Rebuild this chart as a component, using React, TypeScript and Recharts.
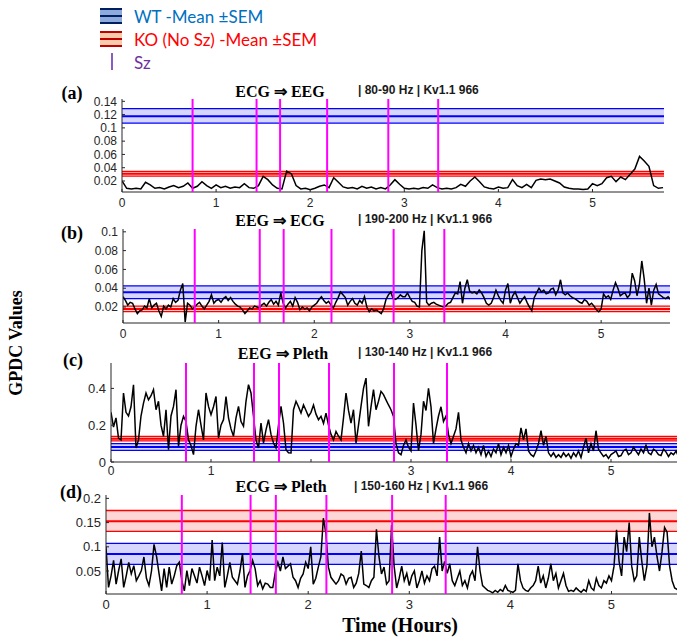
import React from 'react'
import { LineChart, Line, XAxis, YAxis, ReferenceArea, ReferenceLine } from 'recharts'

// time grids (hours)
const hours = Array.from({ length: 116 }, (_, i) => +(i * 0.05).toFixed(2))
const hoursFine = Array.from({ length: 231 }, (_, i) => +(i * 0.025).toFixed(3))
const hourTicks = [0, 1, 2, 3, 4, 5]

// seizure onsets (hours)
const szHours = [0.75, 1.43, 1.68, 2.18, 2.83, 3.36]

// (a) ECG => EEG | 80-90 Hz  (0.05 h steps)
const gpdcA = [
  0.020, 0.009, 0.008, 0.009, 0.008, 0.018, 0.014, 0.009, 0.010, 0.008,
  0.011, 0.013, 0.010, 0.012, 0.017, 0.009, 0.012, 0.019, 0.013, 0.009,
  0.014, 0.010, 0.012, 0.009, 0.011, 0.010, 0.016, 0.010, 0.009, 0.013,
  0.027, 0.022, 0.014, 0.009, 0.008, 0.035, 0.031, 0.013, 0.008, 0.009,
  0.007, 0.009, 0.012, 0.014, 0.010, 0.025, 0.018, 0.011, 0.009, 0.010,
  0.008, 0.012, 0.009, 0.011, 0.008, 0.010, 0.008, 0.014, 0.022, 0.015,
  0.009, 0.008, 0.009, 0.008, 0.010, 0.009, 0.014, 0.010, 0.008, 0.009,
  0.008, 0.010, 0.015, 0.012, 0.020, 0.026, 0.019, 0.011, 0.009, 0.008,
  0.011, 0.009, 0.010, 0.022, 0.013, 0.010, 0.015, 0.010, 0.021, 0.023,
  0.022, 0.023, 0.020, 0.017, 0.011, 0.009, 0.008, 0.008, 0.007, 0.008,
  0.016, 0.013, 0.016, 0.025, 0.027, 0.019, 0.026, 0.022, 0.030, 0.038,
  0.057, 0.050, 0.042, 0.013, 0.009, 0.010,
]
const wtA = [0.1072, 0.1177, 0.1291]
const koA = [0.0274, 0.0309, 0.0344]
const yTicksA = [0.02, 0.04, 0.06, 0.08, 0.1, 0.12, 0.14]

// (b) EEG => ECG | 190-200 Hz  (0.025 h steps)
const gpdcB = [
  0.031, 0.027, 0.022, 0.025, 0.024, 0.018, 0.013, 0.016, 0.017, 0.021,
  0.019, 0.029, 0.019, 0.022, 0.024, 0.016, 0.010, 0.021, 0.018, 0.022,
  0.020, 0.029, 0.025, 0.027, 0.038, 0.045, 0.004, 0.024, 0.022, 0.018,
  0.020, 0.023, 0.025, 0.021, 0.018, 0.022, 0.026, 0.033, 0.024, 0.027,
  0.028, 0.025, 0.029, 0.031, 0.027, 0.030, 0.026, 0.023, 0.021, 0.020,
  0.017, 0.013, 0.016, 0.019, 0.018, 0.021, 0.020, 0.019, 0.022, 0.024,
  0.021, 0.025, 0.028, 0.023, 0.026, 0.022, 0.035, 0.024, 0.019, 0.023,
  0.026, 0.021, 0.030, 0.025, 0.017, 0.020, 0.018, 0.019, 0.016, 0.020,
  0.022, 0.024, 0.028, 0.031, 0.027, 0.024, 0.026, 0.022, 0.019, 0.025,
  0.030, 0.036, 0.033, 0.030, 0.022, 0.026, 0.029, 0.024, 0.022, 0.027,
  0.024, 0.031, 0.020, 0.015, 0.018, 0.016, 0.017, 0.015, 0.013, 0.018,
  0.028, 0.033, 0.036, 0.029, 0.028, 0.030, 0.033, 0.031, 0.031, 0.035,
  0.030, 0.026, 0.025, 0.021, 0.020, 0.080, 0.101, 0.025, 0.022, 0.024,
  0.025, 0.023, 0.022, 0.021, 0.020, 0.021, 0.024, 0.025, 0.030, 0.035,
  0.034, 0.047, 0.024, 0.040, 0.049, 0.037, 0.035, 0.036, 0.034, 0.038,
  0.035, 0.030, 0.024, 0.022, 0.024, 0.030, 0.038, 0.032, 0.027, 0.024,
  0.038, 0.045, 0.024, 0.032, 0.036, 0.030, 0.024, 0.028, 0.031, 0.025,
  0.020, 0.016, 0.030, 0.035, 0.040, 0.036, 0.038, 0.034, 0.035, 0.039,
  0.040, 0.033, 0.038, 0.049, 0.035, 0.033, 0.035, 0.032, 0.030, 0.029,
  0.027, 0.025, 0.024, 0.028, 0.026, 0.022, 0.024, 0.021, 0.017, 0.015,
  0.018, 0.034, 0.030, 0.032, 0.028, 0.038, 0.046, 0.040, 0.032, 0.034,
  0.035, 0.030, 0.033, 0.056, 0.048, 0.032, 0.044, 0.069, 0.050, 0.024,
  0.040, 0.022, 0.038, 0.044, 0.034, 0.032, 0.030, 0.029, 0.031, 0.028,
  0.028,
]
const wtB = [0.029, 0.0357, 0.0425]
const koB = [0.015, 0.018, 0.021]
const yTicksB = [0.02, 0.04, 0.06, 0.08, 0.1]

// (c) EEG => Pleth | 130-140 Hz  (0.025 h steps)
const gpdcC = [
  0.27, 0.19, 0.24, 0.13, 0.12, 0.375, 0.27, 0.25, 0.30, 0.42,
  0.076, 0.12, 0.25, 0.32, 0.375, 0.338, 0.36, 0.393, 0.284, 0.33,
  0.20, 0.14, 0.284, 0.067, 0.25, 0.302, 0.393, 0.085, 0.20, 0.248,
  0.22, 0.12, 0.09, 0.04, 0.194, 0.284, 0.20, 0.12, 0.375, 0.302,
  0.257, 0.30, 0.356, 0.13, 0.20, 0.23, 0.356, 0.24, 0.18, 0.14,
  0.24, 0.302, 0.22, 0.194, 0.33, 0.42, 0.375, 0.248, 0.12, 0.076,
  0.212, 0.103, 0.175, 0.23, 0.15, 0.103, 0.076, 0.20, 0.302, 0.212,
  0.067, 0.05, 0.049, 0.284, 0.33, 0.30, 0.266, 0.31, 0.28, 0.248,
  0.27, 0.31, 0.26, 0.23, 0.248, 0.21, 0.266, 0.20, 0.15, 0.12,
  0.166, 0.14, 0.12, 0.24, 0.375, 0.28, 0.212, 0.284, 0.103, 0.20,
  0.302, 0.40, 0.456, 0.194, 0.30, 0.393, 0.284, 0.33, 0.384, 0.366,
  0.338, 0.31, 0.284, 0.248, 0.10, 0.05, 0.04, 0.09, 0.12, 0.08,
  0.06, 0.32, 0.20, 0.06, 0.15, 0.33, 0.28, 0.40, 0.30, 0.10,
  0.18, 0.25, 0.30, 0.22, 0.25, 0.15, 0.10, 0.14, 0.18, 0.27,
  0.12, 0.08, 0.05, 0.10, 0.06, 0.09, 0.05, 0.08, 0.04, 0.09,
  0.03, 0.06, 0.03, 0.07, 0.05, 0.10, 0.04, 0.08, 0.05, 0.09,
  0.03, 0.07, 0.10, 0.09, 0.185, 0.12, 0.18, 0.06, 0.04, 0.03,
  0.06, 0.10, 0.17, 0.09, 0.14, 0.05, 0.03, 0.05, 0.025, 0.04,
  0.025, 0.05, 0.03, 0.045, 0.02, 0.05, 0.03, 0.06, 0.025, 0.08,
  0.13, 0.05, 0.10, 0.06, 0.17, 0.07, 0.05, 0.03, 0.04, 0.02,
  0.04, 0.05, 0.06, 0.03, 0.035, 0.06, 0.07, 0.04, 0.05, 0.08,
  0.06, 0.04, 0.07, 0.05, 0.09, 0.05, 0.04, 0.07, 0.06, 0.04,
  0.035, 0.07, 0.055, 0.03, 0.05, 0.04, 0.06, 0.03, 0.045, 0.035,
  0.045,
]
const wtC = [0.063, 0.082, 0.1]
const koC = [0.115, 0.127, 0.139]
const yTicksC = [0, 0.2, 0.4]

// (d) ECG => Pleth | 150-160 Hz  (0.025 h steps)
const gpdcD = [
  0.100, 0.016, 0.040, 0.072, 0.023, 0.051, 0.075, 0.016, 0.040, 0.068,
  0.044, 0.061, 0.030, 0.040, 0.051, 0.079, 0.035, 0.020, 0.050, 0.105,
  0.080, 0.044, 0.009, 0.055, 0.016, 0.058, 0.023, 0.040, 0.061, 0.068,
  0.030, 0.009, 0.051, 0.020, 0.055, 0.040, 0.025, 0.058, 0.040, 0.020,
  0.051, 0.030, 0.114, 0.030, 0.058, 0.040, 0.109, 0.016, 0.040, 0.068,
  0.037, 0.030, 0.023, 0.050, 0.086, 0.016, 0.040, 0.051, 0.072, 0.055,
  0.020, 0.030, 0.013, 0.025, 0.023, 0.016, 0.016, 0.048, 0.068, 0.050,
  0.079, 0.055, 0.060, 0.065, 0.037, 0.030, 0.016, 0.035, 0.044, 0.068,
  0.055, 0.100, 0.023, 0.035, 0.058, 0.079, 0.159, 0.128, 0.058, 0.037,
  0.030, 0.023, 0.030, 0.044, 0.040, 0.023, 0.035, 0.037, 0.016, 0.025,
  0.045, 0.091, 0.023, 0.020, 0.016, 0.030, 0.037, 0.136, 0.080, 0.044,
  0.058, 0.023, 0.030, 0.145, 0.060, 0.015, 0.035, 0.060, 0.030, 0.045,
  0.020, 0.040, 0.050, 0.015, 0.030, 0.050, 0.025, 0.040, 0.030, 0.055,
  0.060, 0.040, 0.120, 0.050, 0.070, 0.045, 0.065, 0.030, 0.020, 0.035,
  0.050, 0.020, 0.030, 0.015, 0.040, 0.050, 0.030, 0.100, 0.050, 0.020,
  0.015, 0.010, 0.008, 0.005, 0.010, 0.006, 0.012, 0.008, 0.020, 0.010,
  0.008, 0.006, 0.010, 0.065, 0.030, 0.015, 0.010, 0.008, 0.015, 0.020,
  0.030, 0.060, 0.025, 0.040, 0.015, 0.035, 0.065, 0.030, 0.045, 0.015,
  0.030, 0.045, 0.020, 0.008, 0.010, 0.008, 0.015, 0.010, 0.006, 0.012,
  0.008, 0.030, 0.015, 0.010, 0.035, 0.020, 0.015, 0.030, 0.025, 0.040,
  0.030, 0.060, 0.135, 0.070, 0.040, 0.120, 0.090, 0.150, 0.060, 0.030,
  0.040, 0.120, 0.070, 0.030, 0.060, 0.170, 0.100, 0.120, 0.080, 0.050,
  0.090, 0.140, 0.130, 0.060, 0.030, 0.015, 0.012, 0.015, 0.012, 0.014,
  0.015,
]
const wtD = [0.0635, 0.085, 0.107]
const koD = [0.132, 0.153, 0.175]
const yTicksD = [0.05, 0.1, 0.15, 0.2]

const SANS = '"Liberation Sans", Arial, sans-serif'
const SERIF = '"Liberation Serif", "Times New Roman", serif'
const AXIS = '#262626'

type PanelProps = {
  left: number; top: number; width: number; height: number
  yw: number; mt: number; mr: number
  xMax: number; yDomain: number[]; yTicks: number[]
  times: number[]; values: number[]; wt: number[]; ko: number[]
  fontSize: number; xFontSize?: number; xTickMargin?: number; hideX?: number[]
}

function Panel(p: PanelProps) {
  const rows = p.times.map((t, i) => ({ t, v: p.values[i] }))
  const tick = { fill: AXIS, fontSize: p.fontSize, fontFamily: SANS }
  const xTick = { ...tick, fontSize: p.xFontSize ?? p.fontSize }
  const hide = p.hideX ?? []
  return (
    <div style={{ position: 'absolute', left: p.left, top: p.top }}>
      <LineChart width={p.width} height={p.height} data={rows}
        margin={{ top: p.mt, right: p.mr, left: 0, bottom: 0 }}>
        <XAxis type="number" dataKey="t" domain={[0, p.xMax]} ticks={hourTicks} interval={0}
          allowDataOverflow height={20} tickSize={-3} tickMargin={p.xTickMargin ?? 9}
          tickFormatter={(v: number) => (hide.includes(v) ? '' : String(v))}
          axisLine={{ stroke: AXIS }} tickLine={{ stroke: AXIS }} tick={xTick} />
        <YAxis type="number" domain={p.yDomain} ticks={p.yTicks} interval={0}
          allowDataOverflow width={p.yw} tickSize={-3} tickMargin={8}
          axisLine={{ stroke: AXIS }} tickLine={{ stroke: AXIS }} tick={tick} />
        <ReferenceArea y1={p.wt[0]} y2={p.wt[2]} fill="#0000ff" fillOpacity={0.16} stroke="none" />
        <ReferenceArea y1={p.ko[0]} y2={p.ko[2]} fill="#ff0000" fillOpacity={0.16} stroke="none" />
        {p.wt.map((y, i) => (
          <ReferenceLine key={'w' + i} y={y} stroke="#0000ff" strokeWidth={i === 1 ? 2 : 1.3} />
        ))}
        {p.ko.map((y, i) => (
          <ReferenceLine key={'k' + i} y={y} stroke="#ff0000" strokeWidth={i === 1 ? 2 : 1.3} />
        ))}
        <Line type="linear" dataKey="v" stroke="#000" strokeWidth={1.5} dot={false}
          isAnimationActive={false} />
        {szHours.map((x, i) => (
          <ReferenceLine key={'s' + i} x={x} stroke="#ff00ff" strokeWidth={2} zIndex={600} />
        ))}
      </LineChart>
    </div>
  )
}

function Txt({ x, y, children, style, center = true }: any) {
  return (
    <div style={{
      position: 'absolute', left: x, top: y, whiteSpace: 'nowrap', lineHeight: 1,
      transform: center ? 'translate(-50%, -50%)' : 'translate(0, -50%)', ...style,
    }}>{children}</div>
  )
}

const titleStyle = { fontFamily: SERIF, fontWeight: 700, fontSize: 16, color: '#000' }
const subStyle = { fontFamily: SANS, fontWeight: 700, fontSize: 12, color: '#1a1a1a' }
const tagStyle = { fontFamily: SERIF, fontWeight: 700, fontSize: 18, color: '#000' }
const legendText = { fontFamily: 'Lato, "Open Sans", sans-serif', fontSize: 17 }

function BandIcon({ top, fill, line }: { top: number; fill: string; line: string }) {
  return (
    <div style={{ position: 'absolute', left: 100, top, width: 22, height: 16, background: fill }}>
      {[0, 7, 14].map(o => (
        <div key={o} style={{ position: 'absolute', left: 0, top: o, width: 22, height: 2, background: line }} />
      ))}
    </div>
  )
}

export default function App() {
  return (
    <div style={{ position: 'absolute', left: 0, top: 0, width: 677, height: 639, overflow: 'hidden', background: '#fff' }}>
      {/* legend */}
      <BandIcon top={8} fill="#8faadc" line="#002060" />
      <BandIcon top={31} fill="#f8cbad" line="#c00000" />
      <div style={{ position: 'absolute', left: 111, top: 53, width: 2, height: 17, background: '#8a5cc0' }} />
      <Txt x={134} y={16} center={false} style={{ ...legendText, color: '#0070c0' }}>WT -Mean ±SEM</Txt>
      <Txt x={134} y={39} center={false} style={{ ...legendText, color: '#ff0000' }}>KO (No Sz) -Mean ±SEM</Txt>
      <Txt x={134} y={62} center={false} style={{ ...legendText, color: '#7030a0' }}>Sz</Txt>

      <Panel left={80} top={90} width={586} height={122} yw={42} mt={9} mr={2}
        xMax={5.76} yDomain={[0.0034, 0.1435]} yTicks={yTicksA}
        times={hours} values={gpdcA} wt={wtA} ko={koA} fontSize={12} />
      <Panel left={80} top={220} width={592} height={123} yw={43} mt={9} mr={2}
        xMax={5.72} yDomain={[0.003, 0.103]} yTicks={yTicksB}
        times={hoursFine} values={gpdcB} wt={wtB} ko={koB} fontSize={12} />
      <Panel left={70} top={354} width={607} height={128} yw={41} mt={9} mr={0}
        xMax={5.66} yDomain={[0, 0.538]} yTicks={yTicksC}
        times={hoursFine} values={gpdcC} wt={wtC} ko={koC} fontSize={13}
        xFontSize={12} xTickMargin={7} hideX={[2]} />
      <Panel left={60} top={486} width={617} height={128} yw={46} mt={9} mr={0}
        xMax={5.648} yDomain={[0.0025, 0.207]} yTicks={yTicksD}
        times={hoursFine} values={gpdcD} wt={wtD} ko={koD} fontSize={13} />

      {/* panel titles */}
      <Txt x={280} y={92} style={titleStyle}>ECG ⇒ EEG</Txt>
      <Txt x={358} y={90} center={false} style={subStyle}>| 80-90 Hz | Kv1.1 966</Txt>
      <Txt x={72} y={93} style={tagStyle}>(a)</Txt>

      <Txt x={280} y={221} style={titleStyle}>EEG ⇒ ECG</Txt>
      <Txt x={358} y={219} center={false} style={subStyle}>| 190-200 Hz | Kv1.1 966</Txt>
      <Txt x={72} y={233} style={tagStyle}>(b)</Txt>

      <Txt x={283} y={354} style={titleStyle}>EEG ⇒ Pleth</Txt>
      <Txt x={358} y={352} center={false} style={subStyle}>| 130-140 Hz | Kv1.1 966</Txt>
      <Txt x={73} y={360} style={tagStyle}>(c)</Txt>

      <Txt x={281} y={487} style={titleStyle}>ECG ⇒ Pleth</Txt>
      <Txt x={354} y={486} center={false} style={subStyle}>| 150-160 Hz | Kv1.1 966</Txt>
      <Txt x={71} y={492} style={tagStyle}>(d)</Txt>

      <Txt x={400} y={625} style={{ ...tagStyle, fontSize: 20 }}>Time (Hours)</Txt>
      <Txt x={16} y={343} style={{ ...tagStyle, transform: 'translate(-50%, -50%) rotate(-90deg)' }}>GPDC Values</Txt>
    </div>
  )
}
